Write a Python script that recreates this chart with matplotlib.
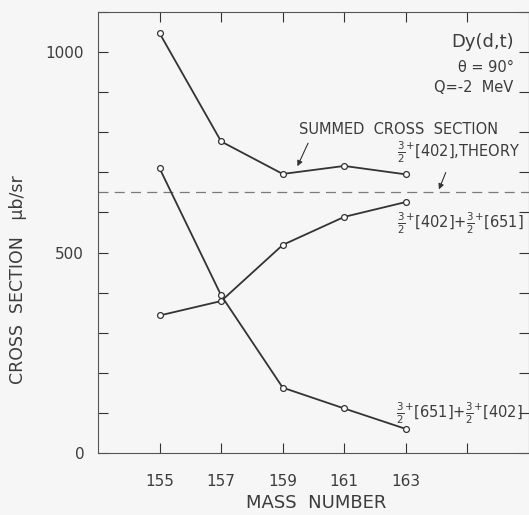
import matplotlib
matplotlib.use("Agg")
from matplotlib import pyplot as plt
from matplotlib.ticker import MultipleLocator

# data
mass = [155, 157, 159, 161, 163]
summed = [1047, 777, 696, 716, 695]
rising = [343, 379, 519, 589, 626]     # 3/2+[402] + 3/2+[651]
falling = [710, 393, 163, 111, 60]     # 3/2+[651] + 3/2+[402]
theory = 650

xticks = [155, 157, 159, 161, 163, 165]
xticklabels = ["155", "157", "159", "161", "163", ""]

ink = "#333333"
txt = "#3c3c3c"
bg = "#f6f6f6"

fig = plt.figure(figsize=(5.29, 5.15), dpi=100, facecolor=bg)
ax = fig.add_axes([0.1853, 0.1204, 0.8147, 0.8563], facecolor=bg)

ax.axhline(theory, color="#7a7a7a", lw=0.9, ls=(0, (8, 5)))

for ys in (summed, rising, falling):
    ax.plot(mass, ys, color=ink, lw=1.3, marker="o", ms=4.2,
            mfc="white", mec=ink, mew=0.9, zorder=3)

ax.set_xlim(153, 167)
ax.set_ylim(0, 1100)
ax.set_xticks(xticks)
ax.set_xticklabels(xticklabels)
ax.set_yticks([0, 500, 1000])
ax.yaxis.set_minor_locator(MultipleLocator(100))
ax.tick_params(which="both", direction="in", length=7, width=0.8,
               top=True, right=True, colors=ink, labelcolor=txt,
               labelsize=11, pad=10)
ax.tick_params(axis="x", pad=15)
for s in ax.spines.values():
    s.set_color("#555555")
    s.set_linewidth(0.8)

ax.set_xlabel("MASS  NUMBER", fontsize=13, color=txt, va="center")
ax.xaxis.set_label_coords(0.507, -0.113)
ax.set_ylabel("CROSS  SECTION   μb/sr", fontsize=12.5, color=txt, va="center")
ax.yaxis.set_label_coords(-0.186, 0.392)

fs = 10.5
ax.text(166.5, 1026, "Dy(d,t)", ha="right", va="center", fontsize=13, color=txt)
ax.text(166.5, 961, "θ = 90°", ha="right", va="center", fontsize=fs, color=txt)
ax.text(166.5, 911, "Q=-2  MeV", ha="right", va="center", fontsize=fs, color=txt)

ax.text(159.54, 806, "SUMMED  CROSS  SECTION", ha="left", va="center",
        fontsize=fs, color=txt)
ax.annotate("", xy=(159.44, 709), xytext=(159.86, 779),
            arrowprops=dict(arrowstyle="-|>", color=ink, lw=0.8,
                            mutation_scale=8))

ax.text(162.71, 749, r"$\frac{3}{2}^{+}$[402],THEORY", ha="left", va="center",
        fontsize=fs, color=txt)
ax.annotate("", xy=(164.04, 651), xytext=(164.33, 706),
            arrowprops=dict(arrowstyle="-|>", color=ink, lw=0.8,
                            mutation_scale=8))

ax.text(162.71, 574, r"$\frac{3}{2}^{+}$[402]+$\frac{3}{2}^{+}$[651]",
        ha="left", va="center", fontsize=fs, color=txt)
ax.text(162.68, 100, r"$\frac{3}{2}^{+}$[651]+$\frac{3}{2}^{+}$[402]",
        ha="left", va="center", fontsize=fs, color=txt)

fig.savefig("out.png", dpi=100, facecolor=bg)
